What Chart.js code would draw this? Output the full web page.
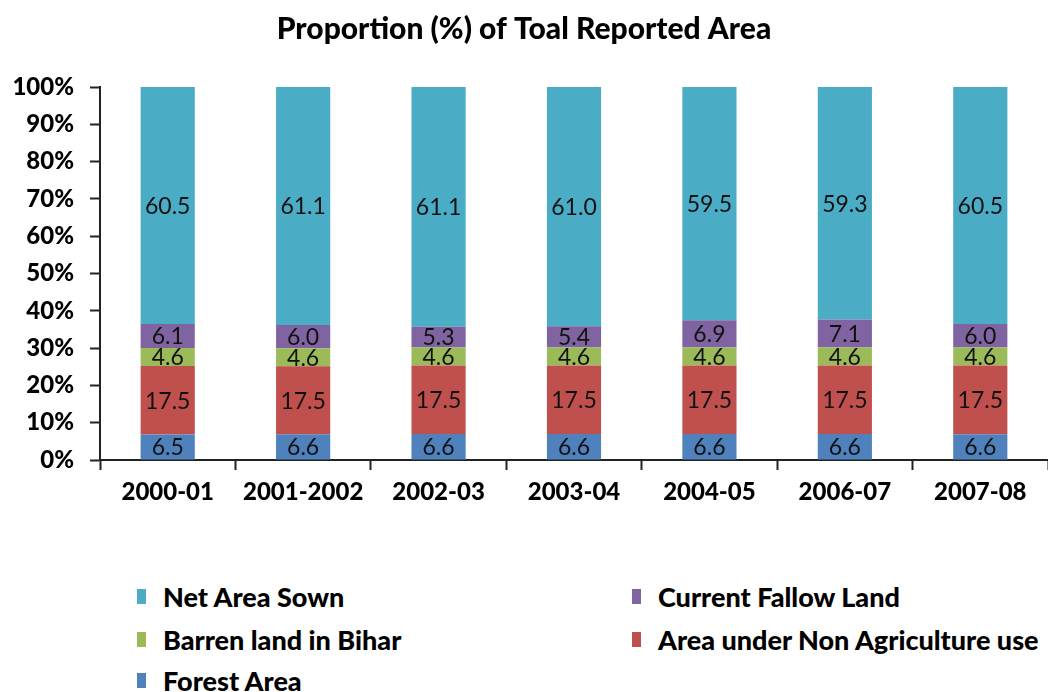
<!DOCTYPE html>
<html>
<head>
<meta charset="utf-8">
<script src="https://cdn.jsdelivr.net/npm/chart.js@4.4.0/dist/chart.umd.min.js"></script>
<style>
  html, body { margin: 0; padding: 0; background: #fff; }
  #wrap { position: relative; width: 1048px; height: 692px; font-family: Lato, "Open Sans", sans-serif; }
  #c { position: absolute; left: 0; top: 0; }
  .lg { position: absolute; display: flex; align-items: center; font-weight: 900; font-size: 27px; color: #000; white-space: nowrap; }
  .lg span.sw { display: inline-block; width: 9px; height: 15px; margin-right: 17px; }
</style>
</head>
<body>
<div id="wrap">
  <canvas id="c" width="1048" height="530"></canvas>
  <div id="legend"></div>
</div>
<script>
const categories = ["2000-01", "2001-2002", "2002-03", "2003-04", "2004-05", "2006-07", "2007-08"];
const forestArea   = [6.5, 6.6, 6.6, 6.6, 6.6, 6.6, 6.6];
const nonAgriArea  = [17.5, 17.5, 17.5, 17.5, 17.5, 17.5, 17.5];
const barrenLand   = [4.6, 4.6, 4.6, 4.6, 4.6, 4.6, 4.6];
const fallowLand   = [6.1, 6.0, 5.3, 5.4, 6.9, 7.1, 6.0];
const netAreaSown  = [60.5, 61.1, 61.1, 61.0, 59.5, 59.3, 60.5];
const yTicks = [0, 10, 20, 30, 40, 50, 60, 70, 80, 90, 100];

const series = [
  { label: "Forest Area", raw: forestArea, color: "#4F81BD" },
  { label: "Area under Non Agriculture use", raw: nonAgriArea, color: "#C0504D" },
  { label: "Barren land in Bihar", raw: barrenLand, color: "#9BBB59" },
  { label: "Current Fallow Land", raw: fallowLand, color: "#8064A2" },
  { label: "Net Area Sown", raw: netAreaSown, color: "#4BACC6" }
];
const totals = categories.map((_, i) => series.reduce((s, d) => s + d.raw[i], 0));

const datasets = series.map(s => ({
  label: s.label,
  data: s.raw.map((v, i) => v / totals[i] * 100),
  raw: s.raw,
  backgroundColor: s.color,
  borderWidth: 0,
  barPercentage: 0.8,
  categoryPercentage: 0.5
}));

const FONT = 'Lato, "Open Sans", sans-serif';

const labelPlugin = {
  id: "segLabels",
  afterDatasetsDraw(chart) {
    const ctx = chart.ctx;
    ctx.save();
    ctx.font = "23px " + FONT;
    ctx.fillStyle = "#111";
    ctx.textAlign = "center";
    ctx.textBaseline = "middle";
    chart.data.datasets.forEach((ds, di) => {
      const meta = chart.getDatasetMeta(di);
      meta.data.forEach((el, i) => {
        const y = (el.y + el.base) / 2;
        ctx.fillText(ds.raw[i].toFixed(1), el.x, y + 1);
      });
    });
    ctx.restore();
  }
};

new Chart(document.getElementById("c"), {
  type: "bar",
  data: { labels: categories, datasets },
  options: {
    responsive: false,
    animation: false,
    layout: { padding: { left: 0, right: 0, top: 0, bottom: 0 } },
    plugins: {
      legend: { display: false },
      tooltip: { enabled: false },
      title: {
        display: true,
        text: "Proportion (%) of Toal Reported Area",
        color: "#000",
        font: { family: FONT, size: 30, weight: "900" },
        padding: { top: 11, bottom: 40 }
      }
    },
    scales: {
      x: {
        stacked: true,
        afterFit(s) { s.height = 70; },
        grid: { drawOnChartArea: false, drawTicks: true, tickLength: 10, tickColor: "#222", tickWidth: 2, offset: true },
        border: { color: "#222", width: 2 },
        ticks: { color: "#000", font: { family: FONT, size: 24, weight: "900" }, padding: 8, maxRotation: 0 }
      },
      y: {
        stacked: true,
        min: 0,
        max: 100,
        afterFit(s) { s.width = 100; },
        afterBuildTicks(s) { s.ticks = yTicks.map(v => ({ value: v })); },
        grid: { drawOnChartArea: false, drawTicks: true, tickLength: 10, tickColor: "#222", tickWidth: 2 },
        border: { color: "#222", width: 2 },
        ticks: { color: "#000", font: { family: FONT, size: 24, weight: "900" }, padding: 16, callback: v => v + "%" }
      }
    }
  },
  plugins: [labelPlugin]
});

// Legend (two columns, as in the reference)
const legendOrder = [
  { s: series[4], x: 137, y: 596 },
  { s: series[3], x: 632, y: 596 },
  { s: series[2], x: 137, y: 639 },
  { s: series[1], x: 632, y: 639 },
  { s: series[0], x: 137, y: 680 }
];
const lg = document.getElementById("legend");
legendOrder.forEach(o => {
  const d = document.createElement("div");
  d.className = "lg";
  d.style.left = o.x + "px";
  d.style.top = (o.y - 15) + "px";
  d.style.height = "30px";
  d.innerHTML = '<span class="sw" style="background:' + o.s.color + '"></span>' + o.s.label;
  lg.appendChild(d);
});
</script>
</body>
</html>
